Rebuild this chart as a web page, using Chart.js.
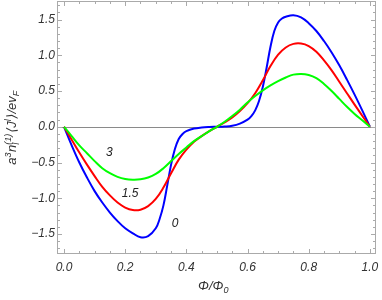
<!DOCTYPE html>
<html>
<head>
<meta charset="utf-8">
<script src="https://cdn.jsdelivr.net/npm/chart.js@4"></script>
<style>
  html, body { margin: 0; padding: 0; background: #fff; }
  #wrap { width: 382px; height: 300px; position: relative; }
</style>
</head>
<body>
<div id="wrap"><canvas id="c"></canvas></div>
<script>
"use strict";

// ── Data ─────────────────────────────────────────────────────────────────────

const PHI = [0, 0.025, 0.05, 0.075, 0.1, 0.125, 0.15, 0.175, 0.2, 0.225, 0.25, 0.275, 0.3, 0.325, 0.35,
  0.375, 0.4, 0.425, 0.45, 0.475, 0.5, 0.525, 0.55, 0.575, 0.6, 0.625, 0.65, 0.675, 0.7, 0.725, 0.75,
  0.775, 0.8, 0.825, 0.85, 0.875, 0.9, 0.925, 0.95, 0.975, 1.0];

// n = 3 (green)
const J_3 = [0, -0.13, -0.26, -0.37, -0.48, -0.58, -0.65, -0.70, -0.73, -0.74, -0.735, -0.71, -0.66, -0.58, -0.48,
  -0.38, -0.29, -0.20, -0.13, -0.06, 0, 0.07, 0.15, 0.24, 0.34, 0.43, 0.51, 0.58, 0.64, 0.69, 0.73,
  0.74, 0.725, 0.68, 0.60, 0.50, 0.39, 0.28, 0.18, 0.09, 0];

// n = 1.5 (red)
const J_15 = [0, -0.18, -0.36, -0.53, -0.69, -0.84, -0.96, -1.06, -1.13, -1.165, -1.16, -1.11, -1.01, -0.85, -0.65,
  -0.46, -0.32, -0.21, -0.13, -0.06, 0, 0.06, 0.13, 0.22, 0.33, 0.47, 0.65, 0.85, 1.01, 1.11, 1.16,
  1.165, 1.13, 1.05, 0.93, 0.79, 0.63, 0.47, 0.31, 0.155, 0];

// n = 0 (blue) — sampled finer around the steep steps
const PHI_0 = [0, 0.025, 0.05, 0.075, 0.1, 0.125, 0.15, 0.175, 0.2, 0.225, 0.25, 0.275, 0.3, 0.3125, 0.325,
  0.3375, 0.35, 0.3625, 0.375, 0.3875, 0.4, 0.425, 0.45, 0.475, 0.5, 0.525, 0.55, 0.575, 0.6, 0.6125,
  0.625, 0.6375, 0.65, 0.6625, 0.675, 0.6875, 0.7, 0.7125, 0.725, 0.75, 0.775, 0.8, 0.825, 0.85, 0.875,
  0.9, 0.925, 0.95, 0.975, 1.0];
const J_0 = [0, -0.26, -0.50, -0.71, -0.90, -1.06, -1.20, -1.32, -1.42, -1.49, -1.545, -1.53, -1.42, -1.29, -1.10,
  -0.82, -0.53, -0.31, -0.17, -0.10, -0.06, -0.025, -0.01, -0.003, 0, 0.004, 0.015, 0.045, 0.10, 0.15,
  0.23, 0.36, 0.56, 0.83, 1.12, 1.34, 1.46, 1.515, 1.54, 1.56, 1.53, 1.45, 1.34, 1.20, 1.04,
  0.86, 0.66, 0.45, 0.23, 0];

const X_TICKS = [0, 0.2, 0.4, 0.6, 0.8, 1.0];
const Y_TICKS = [-1.5, -1.0, -0.5, 0, 0.5, 1.0, 1.5];

// curve labels: text, phi, value
const CURVE_LABELS = ["3", "1.5", "0"];
const CURVE_LABEL_PHI = [0.148, 0.216, 0.363];
const CURVE_LABEL_VAL = [-0.36, -0.93, -1.35];

// ── Helpers ──────────────────────────────────────────────────────────────────

const FONT = "'Liberation Sans', Arial, 'DejaVu Sans', sans-serif";
const pts = (xs, ys) => xs.map((x, i) => ({ x, y: ys[i] }));
const fmt = v => (v < 0 ? "\u2212" : "") + Math.abs(v).toFixed(1);

function range(from, to, step) {
  const out = [];
  for (let v = from; v <= to + 1e-9; v += step) out.push(Math.round(v * 1000) / 1000);
  return out;
}

// frame, inner ticks on all four sides, zero line, curve labels, axis titles
const framePlugin = {
  id: "frame",
  beforeDatasetsDraw(chart) {
    const { ctx, chartArea: a, scales: { x, y } } = chart;
    ctx.save();
    ctx.lineWidth = 1;

    const y0 = Math.round(y.getPixelForValue(0)) + 0.5;
    ctx.strokeStyle = "#8a8a8a";
    ctx.beginPath(); ctx.moveTo(a.left, y0); ctx.lineTo(a.right, y0); ctx.stroke();

    ctx.strokeStyle = "#aaaaaa";
    ctx.strokeRect(a.left + 0.5, a.top + 0.5, a.width - 1, a.height - 1);

    ctx.beginPath();
    range(0, 1, 0.05).forEach(v => {
      const px = Math.round(x.getPixelForValue(v)) + 0.5;
      const len = Math.abs(v * 5 - Math.round(v * 5)) < 1e-6 ? 5 : 3;
      ctx.moveTo(px, a.bottom); ctx.lineTo(px, a.bottom - len);
      ctx.moveTo(px, a.top); ctx.lineTo(px, a.top + len);
    });
    range(-1.7, 1.7, 0.1).forEach(v => {
      const py = Math.round(y.getPixelForValue(v)) + 0.5;
      const len = Math.abs(v * 2 - Math.round(v * 2)) < 1e-6 ? 5 : 3;
      ctx.moveTo(a.left, py); ctx.lineTo(a.left + len, py);
      ctx.moveTo(a.right, py); ctx.lineTo(a.right - len, py);
    });
    ctx.stroke();
    ctx.restore();
  },
  afterDatasetsDraw(chart) {
    const { ctx, scales: { x, y } } = chart;
    ctx.save();
    ctx.fillStyle = "#222";
    ctx.font = "italic 12px " + FONT;
    ctx.textAlign = "center";
    ctx.textBaseline = "middle";
    CURVE_LABELS.forEach((t, i) => {
      ctx.fillText(t, x.getPixelForValue(CURVE_LABEL_PHI[i]), y.getPixelForValue(CURVE_LABEL_VAL[i]));
    });
    ctx.restore();
  },
  afterDraw(chart) {
    const { ctx, chartArea: a } = chart;
    const main = "italic 13px " + FONT;
    const small = "italic 9px " + FONT;

    // pieces: [text, kind] — kind: m main, u sup, d sub, s stacked sub/sup
    function drawPieces(pieces, cx, cy) {
      const w = p => {
        if (p[1] === "m") { ctx.font = main; return ctx.measureText(p[0]).width; }
        ctx.font = small;
        if (p[1] === "s") return Math.max(ctx.measureText(p[0]).width, ctx.measureText(p[2]).width) + 1;
        return ctx.measureText(p[0]).width + 0.5;
      };
      const total = pieces.reduce((s, p) => s + w(p), 0);
      let cur = cx - total / 2;
      pieces.forEach(p => {
        const pw = w(p);
        if (p[1] === "m") { ctx.font = main; ctx.fillText(p[0], cur, cy); }
        else if (p[1] === "u") { ctx.font = small; ctx.fillText(p[0], cur, cy - 5.5); }
        else if (p[1] === "d") { ctx.font = small; ctx.fillText(p[0], cur, cy + 3); }
        else { ctx.font = small; ctx.fillText(p[0], cur, cy + 3); ctx.fillText(p[2], cur, cy - 5.5); }
        cur += pw;
      });
    }

    ctx.save();
    ctx.fillStyle = "#333";
    ctx.textBaseline = "alphabetic";
    ctx.textAlign = "left";
    drawPieces([["\u03A6/\u03A6", "m"], ["0", "d"]], (a.left + a.right) / 2 - 3, 290);

    ctx.translate(16, (a.top + a.bottom) / 2);
    ctx.rotate(-Math.PI / 2);
    drawPieces([
      ["a", "m"], ["3", "u"], ["n", "m"], ["l", "s", "(1)"],
      ["\u27E8J", "m"], ["l", "u"], ["\u27E9/ev", "m"], ["F", "d"],
    ], 0, 0);
    ctx.restore();
  },
};

// ── Chart ────────────────────────────────────────────────────────────────────

const line = (label, data, color, order) => ({
  label, data, borderColor: color, borderWidth: 2, pointRadius: 0,
  tension: 0.4, fill: false, order,
});

new Chart(document.getElementById("c"), {
  type: "line",
  data: {
    datasets: [
      line("0", pts(PHI_0, J_0), "#0000ff", 2),
      line("1.5", pts(PHI, J_15), "#ff0000", 1),
      line("3", pts(PHI, J_3), "#00ff00", 0),
    ],
  },
  options: {
    animation: false,
    responsive: true,
    maintainAspectRatio: false,
    layout: { padding: { top: 1, right: 6, left: 0, bottom: 0 } },
    plugins: { legend: { display: false }, tooltip: { enabled: false } },
    scales: {
      x: {
        type: "linear", min: -0.023, max: 1.02,
        afterBuildTicks: s => { s.ticks = X_TICKS.map(value => ({ value })); },
        afterFit: s => { s.height = 46; s.paddingLeft = 0; s.paddingRight = 0; },
        grid: { display: false, drawTicks: false },
        border: { display: false },
        ticks: { padding: 6, color: "#333", font: { family: FONT, size: 12, style: "italic" }, callback: fmt, maxRotation: 0 },
      },
      y: {
        type: "linear", min: -1.78, max: 1.76,
        afterBuildTicks: s => { s.ticks = Y_TICKS.map(value => ({ value })); },
        afterFit: s => { s.width = 57; s.paddingTop = 0; s.paddingBottom = 0; },
        grid: { display: false, drawTicks: false },
        border: { display: false },
        ticks: { padding: 2, color: "#333", font: { family: FONT, size: 12, style: "italic" }, callback: fmt },
      },
    },
  },
  plugins: [framePlugin],
});
</script>
</body>
</html>
